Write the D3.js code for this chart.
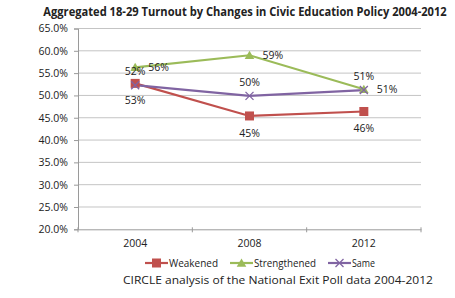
<!DOCTYPE html>
<html>
<head>
<meta charset="utf-8">
<script src="https://cdn.jsdelivr.net/npm/d3@7"></script>
<style>
  body { margin: 0; background: #fff; }
  text { font-family: "Open Sans", "DejaVu Sans", sans-serif; fill: #222; }
</style>
</head>
<body>
<div id="chart"></div>
<script>

var years = ["2004", "2008", "2012"];
var weakened = [52.7, 45.4, 46.4];
var strengthened = [56.3, 59.0, 51.4];
var same = [52.3, 49.9, 51.2];
var yTicks = [20, 25, 30, 35, 40, 45, 50, 55, 60, 65];

var series = [
  { name: "Weakened", values: weakened, color: "#c0504d", marker: "square", labelPos: "below" },
  { name: "Strengthened", values: strengthened, color: "#9bbb59", marker: "triangle", labelPos: "right" },
  { name: "Same", values: same, color: "#8064a2", marker: "cross", labelPos: "above" }
];

var W = 455, H = 298;
var svg = d3.select("#chart").append("svg")
  .attr("width", W)
  .attr("height", H);

var plotL = 78, plotR = 421, plotT = 28.5, plotB = 229.3;

var x = d3.scaleBand().domain(years).range([plotL, plotR]);
var y = d3.scaleLinear().domain([20, 65]).range([plotB, plotT]);

// title - squeezed horizontally to the reference width
var title = svg.append("text")
  .attr("text-anchor", "middle")
  .attr("font-size", 12.5)
  .attr("font-weight", "bold")
  .text("Aggregated 18-29 Turnout by Changes in Civic Education Policy 2004-2012");
var tw = title.node().getComputedTextLength();
var sx = Math.min(1, 404 / tw);
title.attr("transform", "translate(245,15.5) scale(" + sx + ",1)");

// gridlines
svg.append("g")
  .selectAll("line")
  .data(yTicks.slice(1))
  .enter().append("line")
  .attr("x1", plotL).attr("x2", plotR)
  .attr("y1", d => y(d)).attr("y2", d => y(d))
  .attr("stroke", "#c4c4c4")
  .attr("stroke-width", 1);

// y axis
var yAxis = d3.axisLeft(y)
  .tickValues(yTicks)
  .tickSize(4)
  .tickPadding(6)
  .tickFormat(d => d.toFixed(1) + "%");
var gy = svg.append("g")
  .attr("transform", "translate(" + plotL + ",0)")
  .call(yAxis);
gy.select(".domain").attr("stroke", "#9a9a9a");
gy.selectAll(".tick line").attr("stroke", "#9a9a9a");
gy.selectAll("text").attr("font-size", 10.5).attr("fill", "#222");

// x axis
var gx = svg.append("g")
  .attr("transform", "translate(0," + plotB + ")")
  .call(d3.axisBottom(x).tickSize(0).tickPadding(10));
gx.select(".domain").attr("stroke", "#9a9a9a");
gx.selectAll("text").attr("font-size", 10.5).attr("fill", "#222");
// tick marks between categories
gx.selectAll(".sep")
  .data(years.map(d => x(d)).concat([plotR]))
  .enter().append("line")
  .attr("class", "sep")
  .attr("x1", d => d).attr("x2", d => d)
  .attr("y1", -2).attr("y2", 3)
  .attr("stroke", "#9a9a9a");

var line = d3.line()
  .x((d, i) => x(years[i]) + x.bandwidth() / 2)
  .y(d => y(d));

function drawMarker(g, s, cx, cy) {
  if (s.marker == "square") {
    g.append("rect")
      .attr("x", cx - 4.5).attr("y", cy - 4.5)
      .attr("width", 9).attr("height", 9)
      .attr("fill", s.color);
  } else if (s.marker == "triangle") {
    g.append("path")
      .attr("d", d3.symbol().type(d3.symbolTriangle).size(40)())
      .attr("transform", "translate(" + cx + "," + (cy + 1) + ")")
      .attr("fill", s.color);
  } else {
    g.append("path")
      .attr("d", "M-4,-4L4,4M-4,4L4,-4")
      .attr("transform", "translate(" + cx + "," + cy + ")")
      .attr("stroke", s.color)
      .attr("stroke-width", 1.3);
  }
}

// lines, markers
series.forEach(function(s) {
  svg.append("path")
    .datum(s.values)
    .attr("d", line)
    .attr("fill", "none")
    .attr("stroke", s.color)
    .attr("stroke-width", 2.2);
});
series.forEach(function(s) {
  var g = svg.append("g");
  s.values.forEach(function(v, i) {
    drawMarker(g, s, x(years[i]) + x.bandwidth() / 2, y(v));
  });
});

// data labels
series.forEach(function(s) {
  svg.append("g")
    .selectAll("text")
    .data(s.values)
    .enter().append("text")
    .attr("font-size", 10.5)
    .attr("text-anchor", s.labelPos == "right" ? "start" : "middle")
    .attr("x", (d, i) => x(years[i]) + x.bandwidth() / 2 + (s.labelPos == "right" ? 13 : 0))
    .attr("y", d => y(d) + (s.labelPos == "below" ? 21 : s.labelPos == "above" ? -10 : 4))
    .text(d => Math.round(d) + "%");
});

// legend
var legendX = [145, 230, 328];
var legendW = [49, 62, 23];
series.forEach(function(s, i) {
  var g = svg.append("g").attr("transform", "translate(" + legendX[i] + ",263)");
  g.append("line")
    .attr("x1", 0).attr("x2", 23)
    .attr("stroke", s.color).attr("stroke-width", 2.2);
  drawMarker(g, s, 11.5, 0);
  g.append("text")
    .attr("x", 24).attr("y", 4)
    .attr("font-size", 10)
    .attr("textLength", legendW[i])
    .attr("lengthAdjust", "spacingAndGlyphs")
    .text(s.name);
});

// caption
svg.append("text")
  .attr("x", 278).attr("y", 284)
  .attr("text-anchor", "middle")
  .attr("font-size", 11.5)
  .attr("textLength", 310)
  .attr("lengthAdjust", "spacingAndGlyphs")
  .text("CIRCLE analysis of the National Exit Poll data 2004-2012");

</script>
</body>
</html>
